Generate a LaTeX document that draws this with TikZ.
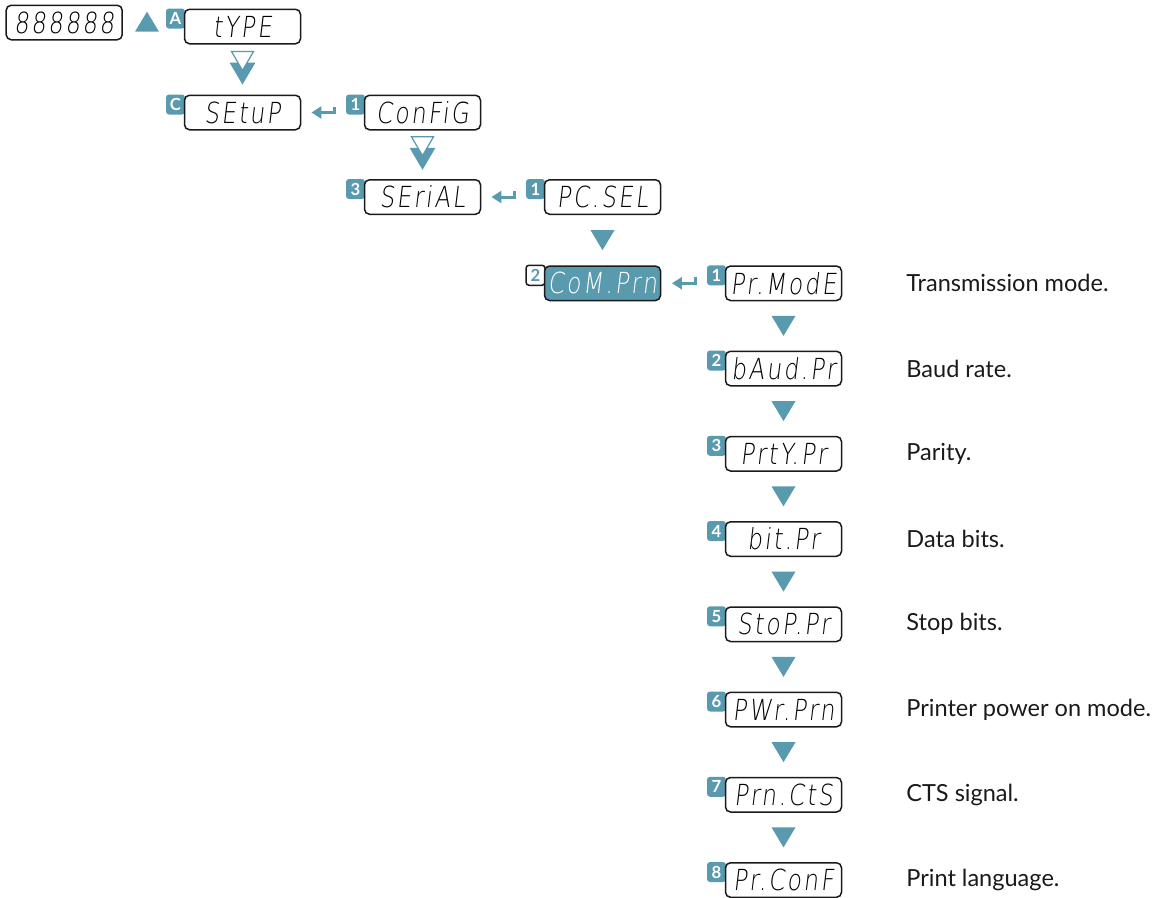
\documentclass[tikz,border=0pt]{standalone}
\usepackage{fontspec}
\setmainfont{Lato}
\newfontfamily\segfont[FakeSlant=0.12,FakeStretch=0.8,LetterSpace=8]{DejaVuSans-ExtraLight.ttf}
\usepackage{tikz}
\usetikzlibrary{arrows.meta}
\definecolor{menucol}{HTML}{5A9AAF}
\definecolor{edgecol}{HTML}{1A1A1A}
\definecolor{desccol}{HTML}{1A1A1A}
\tikzset{
  menubox/.style={draw=edgecol,fill=white,line width=0.03cm,rounded corners=0.1cm,minimum width=2.32cm,minimum height=0.69cm,inner sep=0pt,font=\segfont\fontsize{16.5}{16.5}\selectfont},
  idxbadge/.style={fill=menucol,text=white,rounded corners=0.06cm,minimum width=0.38cm,minimum height=0.4cm,inner sep=0pt,font=\bfseries\fontsize{9.5}{9.5}\selectfont},
  selbox/.style={fill=menucol,text=white},
  selbadge/.style={fill=white,draw=edgecol,line width=0.03cm,text=menucol},
  retarr/.style={draw=menucol,line width=0.06cm,-{Triangle[length=0.2cm,width=0.24cm]}},
  desc/.style={anchor=west,inner sep=0pt,text=desccol,font=\fontsize{13.4}{16}\selectfont},
}
\newcommand{\menubox}[4]{\node[idxbadge] (#2-i) at ([shift={(-1.34,0.16)}]#1) {#3};
\node[menubox] (#2) at (#1) {#4};}
\newcommand{\downtri}[2]{\path (#1.south) -- (#2.north) coordinate[midway] (#1-#2);
\fill[menucol] ([shift={(-0.24,0.2)}]#1-#2) -- ([shift={(0.24,0.2)}]#1-#2) -- ([shift={(0,-0.2)}]#1-#2) -- cycle;}
\newcommand{\subtri}[2]{\path (#1.south) -- (#2.north) coordinate[midway] (#1-#2);
\fill[menucol] ([shift={(-0.26,0.14)}]#1-#2) -- ([shift={(0.26,0.14)}]#1-#2) -- ([shift={(0,-0.3)}]#1-#2) -- cycle;
\filldraw[fill=white,draw=menucol,line width=0.025cm] ([shift={(-0.22,0.36)}]#1-#2) -- ([shift={(0.22,0.36)}]#1-#2) -- ([shift={(0,-0.02)}]#1-#2) -- cycle;}
\newcommand{\retarrow}[2]{\path (#1.east) -- (#1.east -| #2.west) coordinate[midway] (#1-#2);
\draw[retarr] ([shift={(0.23,0.12)}]#1-#2) |- ([shift={(-0.24,0)}]#1-#2);}

\begin{document}
\begin{tikzpicture}[x=1cm,y=1cm]
\useasboundingbox (0,0) rectangle (23.04,-17.94);
\node[menubox] (disp) at (1.284,-0.45) {888888};
\coordinate (up) at (2.94,-0.434);
\fill[menucol] ([shift={(-0.24,-0.2)}]up) -- ([shift={(0.24,-0.2)}]up) -- ([shift={(0,0.2)}]up) -- cycle;

\menubox{4.85,-0.53}{type}{A}{tYPE}
\menubox{4.85,-2.25}{setup}{C}{SEtuP}
\subtri{type}{setup}
\menubox{8.45,-2.25}{config}{1}{ConFiG}
\retarrow{setup}{config-i}
\menubox{8.45,-3.94}{serial}{3}{SEriAL}
\subtri{config}{serial}
\menubox{12.05,-3.94}{pcsel}{1}{PC.SEL}
\retarrow{serial}{pcsel-i}

% selected entry
\node[idxbadge,selbadge] (comprn-i) at ([shift={(-1.34,0.16)}]12.05,-5.665) {2};
\node[menubox,selbox] (comprn) at (12.05,-5.665) {CoM.Prn};
\downtri{pcsel}{comprn}

\menubox{15.67,-5.665}{prmode}{1}{Pr.ModE}
\retarrow{comprn}{prmode-i}
\menubox{15.67,-7.37}{baud}{2}{bAud.Pr}
\downtri{prmode}{baud}
\menubox{15.67,-9.075}{parity}{3}{PrtY.Pr}
\downtri{baud}{parity}
\menubox{15.67,-10.78}{bits}{4}{bit.Pr}
\downtri{parity}{bits}
\menubox{15.67,-12.485}{stop}{5}{StoP.Pr}
\downtri{bits}{stop}
\menubox{15.67,-14.19}{power}{6}{PWr.Prn}
\downtri{stop}{power}
\menubox{15.67,-15.895}{cts}{7}{Prn.CtS}
\downtri{power}{cts}
\menubox{15.67,-17.6}{lang}{8}{Pr.ConF}
\downtri{cts}{lang}

\node[desc] (d-prmode) at (18.12,-5.665) {Transmission mode.};
\node[desc] (d-baud) at (18.12,-7.37) {Baud rate.};
\node[desc] (d-parity) at (18.12,-9.075) {Parity.};
\node[desc] (d-bits) at (18.12,-10.78) {Data bits.};
\node[desc] (d-stop) at (18.12,-12.485) {Stop bits.};
\node[desc] (d-power) at (18.12,-14.19) {Printer power on mode.};
\node[desc] (d-cts) at (18.12,-15.895) {CTS signal.};
\node[desc] (d-lang) at (18.12,-17.6) {Print language.};
\end{tikzpicture}
\end{document}
